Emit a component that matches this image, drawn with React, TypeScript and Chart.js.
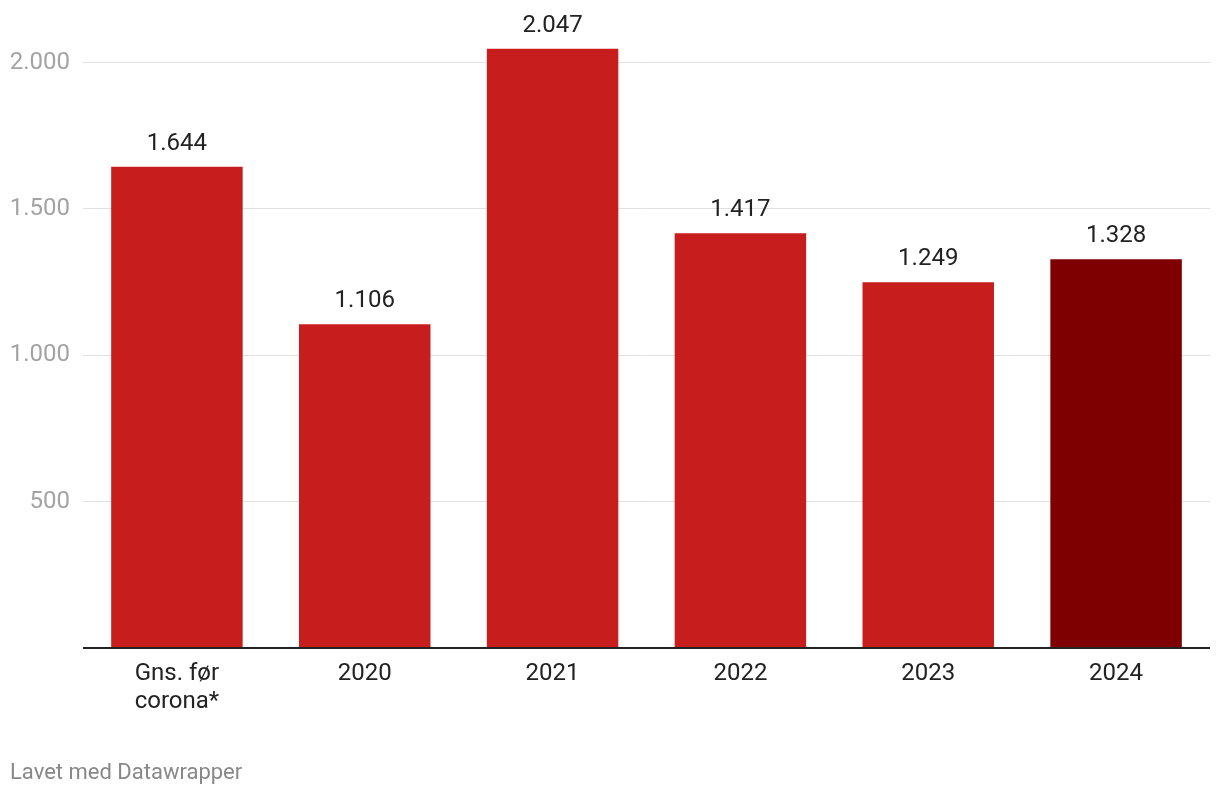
import React, { useEffect, useRef } from "react";
import { Chart, registerables } from "chart.js";

Chart.register(...registerables);

const categories: (string | string[])[] = [["Gns. før", "corona*"], "2020", "2021", "2022", "2023", "2024"];
const values: number[] = [1644, 1106, 2047, 1417, 1249, 1328];
const barColors: string[] = ["#c71e1d", "#c71e1d", "#c71e1d", "#c71e1d", "#c71e1d", "#7f0000"];
const yTicks: number[] = [0, 500, 1000, 1500, 2000];

const fmt = (v: number) => {
  const s = Math.round(v).toString();
  return s.replace(/\B(?=(\d{3})+(?!\d))/g, ".");
};

const labelPlugin = {
  id: "barLabels",
  afterDatasetsDraw(chart: any) {
    const ctx = chart.ctx;
    const meta = chart.getDatasetMeta(0);
    ctx.save();
    ctx.font = "24px Roboto";
    ctx.fillStyle = "#222222";
    ctx.textAlign = "center";
    ctx.textBaseline = "middle";
    meta.data.forEach((bar: any, i: number) => {
      ctx.fillText(fmt(values[i]), bar.x, bar.y - 23);
    });
    ctx.restore();
  },
};

export default function App() {
  const ref = useRef<HTMLCanvasElement>(null);
  useEffect(() => {
    if (!ref.current) return;
    const chart = new Chart(ref.current, {
      type: "bar",
      data: {
        labels: categories,
        datasets: [
          {
            data: values,
            backgroundColor: barColors,
            categoryPercentage: 1,
            barPercentage: 0.7,
          },
        ],
      },
      options: {
        responsive: false,
        animation: false,
        devicePixelRatio: 1,
        layout: { padding: { top: 0, right: 10, left: 0, bottom: 0 } },
        plugins: { legend: { display: false }, tooltip: { enabled: false } },
        scales: {
          x: {
            grid: { display: false },
            border: { display: false },
            ticks: {
              padding: 4,
              color: "#222222",
              font: { family: "Roboto", size: 24, lineHeight: 28 / 24 },
              maxRotation: 0,
              autoSkip: false,
            },
            afterFit: (scale: any) => {
              scale.height = 148;
            },
          },
          y: {
            min: 0,
            max: 2120,
            afterBuildTicks: (scale: any) => {
              scale.ticks = yTicks.map((v) => ({ value: v }));
            },
            grid: {
              drawTicks: false,
              color: (c: any) => (c.tick && c.tick.value === 0 ? "#222222" : "#e0e0e0"),
              lineWidth: (c: any) => (c.tick && c.tick.value === 0 ? 2 : 1),
            },
            border: { display: false },
            ticks: {
              padding: 13,
              color: "#a3a3a3",
              font: { family: "Roboto", size: 24 },
              callback: (v: any) => (Number(v) === 0 ? "" : fmt(Number(v))),
            },
            afterFit: (scale: any) => {
              scale.width = 83;
            },
          },
        },
      },
      plugins: [labelPlugin],
    });
    return () => chart.destroy();
  }, []);

  return (
    <div style={{ position: "fixed", left: 0, top: 0, width: 1220, height: 796, background: "#fff" }}>
      <canvas ref={ref} width={1220} height={796} style={{ width: 1220, height: 796, display: "block" }} />
      <div
        style={{
          position: "absolute",
          left: 10,
          top: 758,
          fontFamily: "Roboto",
          fontSize: 22,
          lineHeight: "28px",
          color: "#888888",
        }}
      >
        Lavet med Datawrapper
      </div>
    </div>
  );
}
